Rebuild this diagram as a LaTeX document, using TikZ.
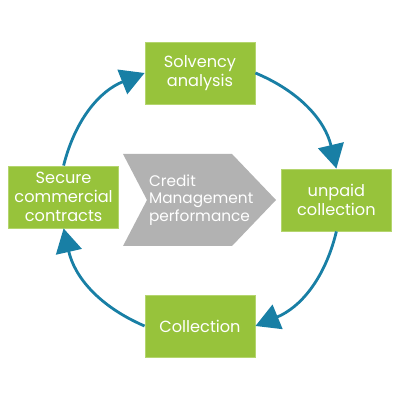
\documentclass[tikz,border=0pt]{standalone}
\usepackage{fontspec}
\setmainfont{Poppins}
\usepackage{tikz}
\usepackage{xcolor}
\usetikzlibrary{arrows.meta}
\usetikzlibrary{positioning}

\definecolor{stepgreen}{HTML}{97C33B}
\definecolor{stepedge}{HTML}{B4D56E}
\definecolor{cycleblue}{HTML}{187FA5}
\definecolor{chevgray}{HTML}{B2B2B2}

\tikzset{
    stepbox/.style={fill=stepgreen, draw=stepedge, line width=0.6pt, text=white,
        minimum width=2.75cm, minimum height=1.55cm, align=center,
        font=\fontsize{11.5}{13.5}\selectfont},
    cycle/.style={draw=cycleblue, line width=2pt,
        -{Triangle[length=6mm,width=6.5mm]}, bend left=27},
}

\begin{document}
\begin{tikzpicture}
    \useasboundingbox (0,0) rectangle (10,10);

    \node[stepbox] (solvency) at (5,8.175) {Solvency\\analysis};
    \node[stepbox] (unpaid) at (8.41,5) {unpaid\\collection};
    \node[stepbox] (collection) at (5,1.85) {Collection};
    \node[stepbox] (secure) at (1.59,5.075) {Secure\\commercial\\contracts};

    % chevron in the middle
    \fill[chevgray] (3.075,6.15) -- (5.8,6.15) -- (6.9,5) -- (5.8,3.85)
        -- (3.075,3.85) -- (3.675,5) -- cycle;
    \node[text=white, align=left, font=\fontsize{10.9}{12.5}\selectfont]
        (credit) at (5.03,5) {Credit\\Management\\performance};

    \draw[cycle] (secure.north) to (solvency.west);
    \draw[cycle] (solvency.east) to (unpaid.north);
    \draw[cycle] (unpaid.south) to (collection.east);
    \draw[cycle] (collection.west) to (secure.south);
\end{tikzpicture}
\end{document}
